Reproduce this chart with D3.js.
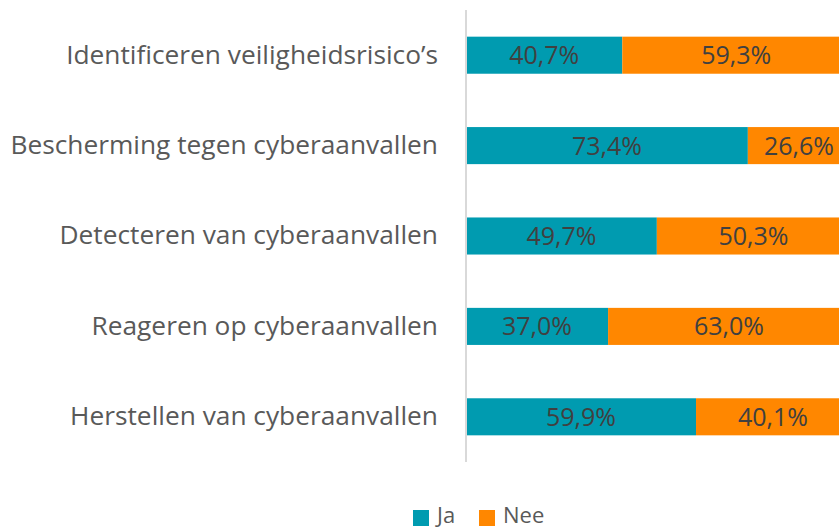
<!DOCTYPE html>
<html><head><meta charset="utf-8">
<script src="https://cdn.jsdelivr.net/npm/d3@7"></script>
<style>body{margin:0;background:#fff;}svg{display:block;}</style>
</head><body>
<svg id="chart" width="839" height="531"></svg>
<script>
const categories = ["Identificeren veiligheidsrisico’s","Bescherming tegen cyberaanvallen","Detecteren van cyberaanvallen","Reageren op cyberaanvallen","Herstellen van cyberaanvallen"];
const jaValues = [40.7, 73.4, 49.7, 37.0, 59.9];
const neeValues = [59.3, 26.6, 50.3, 63.0, 40.1];
const seriesNames = ["Ja","Nee"];
const colors = ["#009BB0","#FF8700"];

const svg = d3.select("#chart");
const font = "'Open Sans', sans-serif";
const x = d3.scaleLinear().domain([0,100]).range([466,850]);
const y = d3.scaleBand().domain(categories).range([10,462]).paddingInner(0.59).paddingOuter(0.295);

const rows = categories.map((c,i)=>({cat:c, vals:[jaValues[i], neeValues[i]]}));
rows.forEach(r=>{
  let acc=0;
  r.vals.forEach((v,j)=>{
    const g = svg.append("g");
    g.append("rect").attr("x",x(acc)).attr("y",y(r.cat)).attr("width",x(acc+v)-x(acc)).attr("height",y.bandwidth()).attr("fill",colors[j]);
    g.append("text").attr("x",(x(acc)+x(acc+v))/2).attr("y",y(r.cat)+y.bandwidth()/2).attr("dy","0.36em")
      .attr("text-anchor","middle").attr("font-family",font).attr("font-size",25).attr("fill","#404040")
      .text(v.toFixed(1).replace(".",",")+"%");
    acc+=v;
  });
});
svg.append("line").attr("x1",466).attr("x2",466).attr("y1",10).attr("y2",462).attr("stroke","#d9d9d9").attr("stroke-width",2);

const yAxis = svg.append("g").attr("transform","translate(466,0)").call(d3.axisLeft(y).tickSize(0).tickPadding(28));
yAxis.select(".domain").remove();
yAxis.selectAll("text").attr("font-family",font).attr("font-size",26.3).attr("fill","#595959");

const legend = svg.append("g");
const lx = [413,479];
seriesNames.forEach((s,i)=>{
  legend.append("rect").attr("x",lx[i]).attr("y",510).attr("width",16).attr("height",16).attr("fill",colors[i]);
  legend.append("text").attr("x",lx[i]+24).attr("y",523).attr("font-family",font).attr("font-size",22).attr("fill","#595959").text(s);
});
</script>
</body></html>
